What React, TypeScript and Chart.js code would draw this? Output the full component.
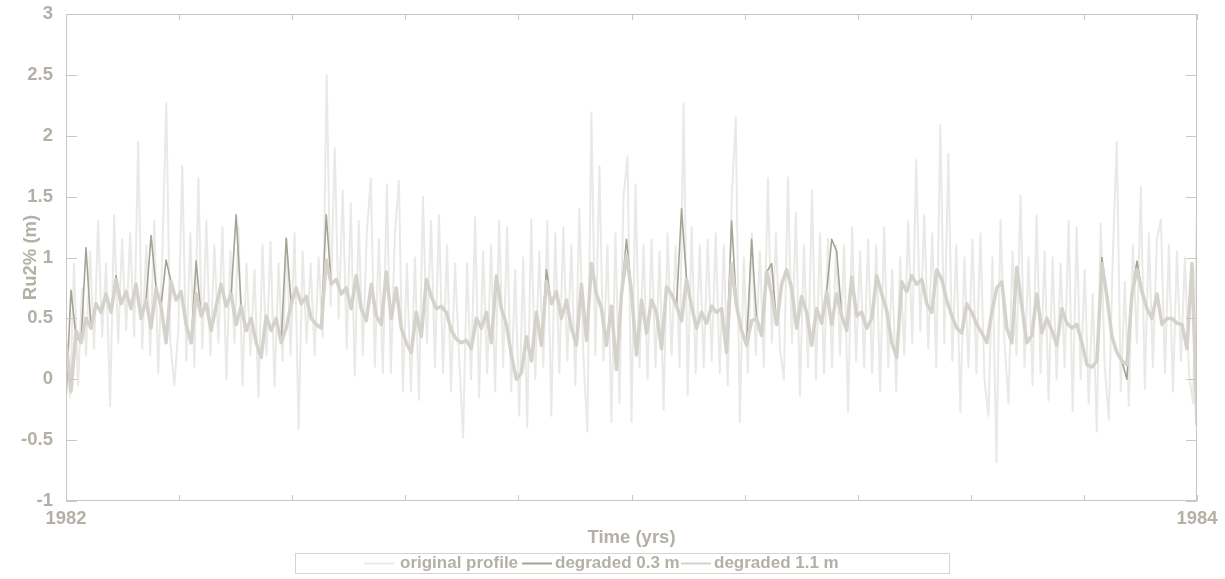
import React, { useEffect, useRef } from 'react';
import { Chart, registerables } from 'chart.js';

Chart.register(...registerables);

const yearStart = 1982;
const yearEnd = 1984;
const xTickLabels = ['1982', '1984'];
const yMin = -1;
const yMax = 3;
const yStep = 0.5;
const xStep = 0.2;
const xTitle = 'Time (yrs)';
const yTitle = 'Ru2% (m)';
const seriesNames = ['original profile', 'degraded 0.3 m', 'degraded 1.1 m'];
const seriesColors = ['#e9e9e7', '#a6a395', '#d4d2cb'];

const originalProfile = [
  0.3, -0.15, 0.95, -0.05, 0.75, 0.2, 1.05, 0.25, 1.3, 0.35,
  0.95, -0.22, 1.35, 0.3, 1.15, 0.4, 1.2, 0.35, 1.95, 0.25,
  1.1, 0.2, 1.3, 0.05, 1.0, 2.27, 0.3, -0.05, 0.4, 1.75,
  0.15, 1.2, 0.1, 1.65, 0.25, 1.3, 0.2, 1.1, 0.3, 1.25,
  0.0, 1.05, 0.3, 1.25, -0.05, 0.95, 0.2, 0.9, -0.15, 1.1,
  0.2, 1.13, -0.06, 0.95, 0.15, 1.15, 0.2, 1.2, -0.41, 1.05,
  0.3, 0.95, 0.2, 1.0, 0.35, 2.5, 0.6, 1.9, 0.5, 1.55,
  0.25, 1.45, 0.03, 1.3, 0.2, 1.2, 1.65, 0.1, 1.15, 0.05,
  1.6, 0.05, 1.2, 1.63, -0.1, 0.95, -0.1, 1.0, -0.17, 1.5,
  0.3, 1.3, 0.1, 1.35, 0.05, 1.1, -0.1, 0.95, 0.2, -0.48,
  0.95, 0.0, 1.33, -0.15, 1.05, 0.05, 1.1, -0.1, 1.3, 0.1,
  1.25, -0.1, 0.9, -0.3, 1.0, -0.39, 1.31, 0.0, 1.05, 0.1,
  1.3, -0.3, 1.2, 0.05, 1.25, 0.15, 1.1, -0.05, 1.4, 0.2,
  -0.43, 2.19, 0.2, 1.75, 0.15, 1.1, -0.35, 1.2, -0.2, 1.5,
  1.83, -0.35, 1.6, 0.1, 1.1, 0.0, 1.15, 0.1, 1.05, -0.25,
  1.2, 0.2, 1.1, 0.1, 2.27, -0.13, 1.25, 0.05, 1.1, 0.1,
  1.15, 0.15, 1.2, 0.05, 1.1, -0.05, 1.5, 2.15, -0.35, 1.0,
  0.05, 1.2, 0.2, 1.05, 0.1, 1.65, 0.3, 1.2, 0.25, 0.0,
  1.66, 0.3, 1.37, -0.14, 1.1, 0.1, 1.55, 0.0, 1.2, 0.05,
  1.15, 0.1, 1.1, 0.2, 1.1, -0.27, 1.25, 0.15, 1.05, 0.1,
  1.15, 0.05, 1.1, -0.1, 1.25, 0.1, 0.9, -0.1, 1.0, 0.2,
  1.3, 0.3, 1.8, 0.4, 1.35, 0.25, 1.2, 0.1, 2.09, 0.3,
  1.85, 0.15, 1.1, -0.27, 1.0, 0.1, 1.15, 0.05, 1.2, 0.0,
  -0.3, 1.0, -0.68, 1.31, 0.3, -0.2, 1.05, 0.2, 1.51, 0.1,
  1.0, -0.05, 1.35, 0.05, 1.05, -0.17, 1.0, 0.0, 0.95, 0.1,
  1.3, -0.26, 1.25, 0.0, 0.9, -0.2, 0.7, -0.43, 1.28, 0.1,
  -0.33, 1.0, 1.95, -0.1, 0.8, -0.22, 1.1, 0.3, 1.58, -0.08,
  1.2, 0.1, 1.15, 1.31, 0.05, 1.1, -0.1, 1.05, 0.15, 1.0, 0.05, -0.2, 1.4,
];

const degraded03 = [
  -0.17, 0.73, 0.35, 0.3, 1.08, 0.42, 0.62, 0.55, 0.7, 0.55,
  0.85, 0.62, 0.72, 0.58, 0.78, 0.5, 0.65, 1.18, 0.75, 0.6,
  0.98, 0.8, 0.65, 0.72, 0.45, 0.3, 0.97, 0.52, 0.62, 0.4,
  0.6, 0.78, 0.6, 0.7, 1.35, 0.6, 0.4, 0.5, 0.3, 0.18,
  0.52, 0.4, 0.5, 0.3, 1.16, 0.62, 0.75, 0.62, 0.68, 0.5,
  0.45, 0.42, 1.35, 0.78, 0.82, 0.7, 0.75, 0.58, 0.85, 0.58,
  0.48, 0.78, 0.52, 0.45, 0.88, 0.5, 0.75, 0.42, 0.3, 0.22,
  0.55, 0.35, 0.82, 0.68, 0.58, 0.6, 0.55, 0.4, 0.33, 0.3,
  0.32, 0.25, 0.5, 0.42, 0.55, 0.3, 0.85, 0.58, 0.45, 0.2,
  0.0, 0.05, 0.35, 0.15, 0.55, 0.28, 0.9, 0.62, 0.72, 0.5,
  0.65, 0.42, 0.28, 0.78, 0.32, 0.95, 0.7, 0.58, 0.28, 0.6,
  0.08, 0.7, 1.15, 0.72, 0.2, 0.65, 0.38, 0.65, 0.55, 0.25,
  0.76, 0.7, 0.6, 1.4, 0.82, 0.6, 0.42, 0.55, 0.46, 0.6,
  0.55, 0.58, 0.22, 1.3, 0.6, 0.4, 0.28, 1.15, 0.5, 0.36,
  0.88, 0.95, 0.45, 0.78, 0.9, 0.75, 0.42, 0.68, 0.55, 0.28,
  0.58, 0.46, 0.72, 1.15, 1.05, 0.52, 0.4, 0.84, 0.52, 0.55,
  0.42, 0.5, 0.85, 0.7, 0.56, 0.3, 0.18, 0.8, 0.72, 0.85,
  0.78, 0.82, 0.62, 0.55, 0.9, 0.82, 0.65, 0.52, 0.42, 0.38,
  0.62, 0.55, 0.45, 0.38, 0.3, 0.55, 0.75, 0.8, 0.42, 0.3,
  0.92, 0.6, 0.3, 0.36, 0.7, 0.38, 0.5, 0.4, 0.28, 0.58,
  0.46, 0.42, 0.45, 0.3, 0.12, 0.1, 0.15, 1.0, 0.68, 0.35,
  0.22, 0.15, 0.0, 0.7, 0.97, 0.72, 0.58, 0.5, 0.7, 0.45,
  0.5, 0.5, 0.46, 0.45, 0.25, 0.95, -0.38,
];

const degraded11 = [
  0.3, -0.1, 0.4, 0.3, 0.5, 0.42, 0.62, 0.55, 0.7, 0.55,
  0.82, 0.62, 0.72, 0.58, 0.78, 0.5, 0.65, 0.42, 0.75, 0.6,
  0.3, 0.8, 0.65, 0.72, 0.45, 0.3, 0.7, 0.52, 0.62, 0.4,
  0.6, 0.78, 0.6, 0.7, 0.45, 0.6, 0.4, 0.5, 0.3, 0.18,
  0.52, 0.4, 0.5, 0.3, 0.42, 0.62, 0.75, 0.62, 0.68, 0.5,
  0.45, 0.42, 0.98, 0.78, 0.82, 0.7, 0.75, 0.58, 0.85, 0.58,
  0.48, 0.78, 0.52, 0.45, 0.88, 0.5, 0.75, 0.42, 0.3, 0.22,
  0.55, 0.35, 0.82, 0.68, 0.58, 0.6, 0.55, 0.4, 0.33, 0.3,
  0.32, 0.25, 0.5, 0.42, 0.55, 0.3, 0.85, 0.58, 0.45, 0.2,
  0.0, 0.05, 0.35, 0.15, 0.55, 0.28, 0.8, 0.62, 0.72, 0.5,
  0.65, 0.42, 0.28, 0.78, 0.32, 0.95, 0.7, 0.58, 0.28, 0.6,
  0.08, 0.7, 1.02, 0.72, 0.2, 0.65, 0.38, 0.65, 0.55, 0.25,
  0.76, 0.7, 0.6, 0.48, 0.82, 0.6, 0.42, 0.55, 0.46, 0.6,
  0.55, 0.58, 0.22, 0.95, 0.6, 0.4, 0.28, 0.48, 0.5, 0.36,
  0.88, 0.7, 0.45, 0.78, 0.9, 0.75, 0.42, 0.68, 0.55, 0.28,
  0.58, 0.46, 0.72, 0.45, 0.7, 0.52, 0.4, 0.84, 0.52, 0.55,
  0.42, 0.5, 0.85, 0.7, 0.56, 0.3, 0.18, 0.8, 0.72, 0.85,
  0.78, 0.82, 0.62, 0.55, 0.9, 0.82, 0.65, 0.52, 0.42, 0.38,
  0.62, 0.55, 0.45, 0.38, 0.3, 0.55, 0.75, 0.8, 0.42, 0.3,
  0.92, 0.6, 0.3, 0.36, 0.7, 0.38, 0.5, 0.4, 0.28, 0.58,
  0.46, 0.42, 0.45, 0.3, 0.12, 0.1, 0.15, 0.95, 0.68, 0.35,
  0.22, 0.15, 0.12, 0.7, 0.9, 0.72, 0.58, 0.5, 0.7, 0.45,
  0.5, 0.5, 0.46, 0.45, 0.25, 0.95, -0.38,
];

const TEXT_COLOR = '#b4b0a6';
const FRAME_COLOR = '#cac7c0';
const FONT_FAMILY = '"Liberation Sans", Arial, Helvetica, sans-serif';

function toPoints(values: number[]) {
  const n = values.length;
  return values.map((v, i) => ({ x: yearStart + ((yearEnd - yearStart) * i) / (n - 1), y: v }));
}

const framePlugin = {
  id: 'framePlugin',
  afterDraw(chart: any) {
    const { ctx, chartArea, scales } = chart;
    const { left, right, top, bottom } = chartArea;
    ctx.save();
    ctx.strokeStyle = FRAME_COLOR;
    ctx.lineWidth = 1;
    ctx.strokeRect(Math.round(left) + 0.5, Math.round(top) + 0.5, Math.round(right - left) - 1, Math.round(bottom - top) - 1);
    ctx.beginPath();
    scales.y.ticks.forEach((t: any) => {
      const y = Math.round(scales.y.getPixelForValue(t.value)) + 0.5;
      ctx.moveTo(left, y);
      ctx.lineTo(left + 11, y);
      ctx.moveTo(right - 11, y);
      ctx.lineTo(right, y);
    });
    scales.x.ticks.forEach((t: any) => {
      const x = Math.round(scales.x.getPixelForValue(t.value)) + 0.5;
      ctx.moveTo(x, bottom);
      ctx.lineTo(x, bottom - 6);
      ctx.moveTo(x, top);
      ctx.lineTo(x, top + 6);
    });
    ctx.stroke();

    ctx.fillStyle = TEXT_COLOR;
    ctx.font = `bold 18.5px ${FONT_FAMILY}`;
    ctx.textAlign = 'center';
    ctx.textBaseline = 'middle';
    ctx.fillText(xTitle, (left + right) / 2, 538);
    ctx.save();
    ctx.translate(31, (top + bottom) / 2);
    ctx.rotate(-Math.PI / 2);
    ctx.fillText(yTitle, 0, 0);
    ctx.restore();

    // legend
    ctx.font = `bold 17px ${FONT_FAMILY}`;
    const boxL = 295, boxT = 553, boxW = 654, boxH = 20;
    ctx.fillStyle = '#ffffff';
    ctx.fillRect(boxL, boxT, boxW, boxH);
    ctx.strokeStyle = '#d6d4ce';
    ctx.lineWidth = 1;
    ctx.strokeRect(boxL + 0.5, boxT + 0.5, boxW, boxH);
    const ly = 563.5;
    const items = [
      { s: 364, t: 400 },
      { s: 522, t: 555 },
      { s: 681, t: 714 },
    ];
    ctx.textAlign = 'left';
    items.forEach((it, i) => {
      ctx.strokeStyle = seriesColors[i];
      ctx.lineWidth = 2;
      ctx.beginPath();
      ctx.moveTo(it.s, ly);
      ctx.lineTo(it.s + 30, ly);
      ctx.stroke();
      ctx.fillStyle = TEXT_COLOR;
      ctx.fillText(seriesNames[i], it.t, ly);
    });
    ctx.restore();
  },
};

export default function App() {
  const canvasRef = useRef<HTMLCanvasElement | null>(null);

  useEffect(() => {
    if (!canvasRef.current) return;
    const tickFont = { family: FONT_FAMILY, size: 18.5, weight: 'bold' as const };
    const chart = new Chart(canvasRef.current, {
      type: 'line',
      data: {
        datasets: [
          {
            label: seriesNames[0],
            data: toPoints(originalProfile),
            borderColor: seriesColors[0],
            borderWidth: 2,
            pointRadius: 0,
            order: 3,
          },
          {
            label: seriesNames[1],
            data: toPoints(degraded03),
            borderColor: seriesColors[1],
            borderWidth: 1.6,
            pointRadius: 0,
            order: 2,
          },
          {
            label: seriesNames[2],
            data: toPoints(degraded11),
            borderColor: seriesColors[2],
            borderWidth: 3.5,
            pointRadius: 0,
            order: 1,
          },
        ],
      },
      options: {
        responsive: false,
        animation: false,
        layout: { padding: { left: 0, right: 28, top: 14, bottom: 0 } },
        plugins: { legend: { display: false }, tooltip: { enabled: false } },
        elements: { line: { tension: 0, borderJoinStyle: 'round' } },
        scales: {
          x: {
            type: 'linear',
            min: yearStart,
            max: yearEnd,
            grid: { display: false, drawTicks: false },
            border: { display: false },
            ticks: {
              stepSize: xStep,
              autoSkip: false,
              maxRotation: 0,
              padding: 7,
              color: TEXT_COLOR,
              font: tickFont,
              callback: (v: any) => {
                const n = Number(v);
                if (Math.abs(n - yearStart) < 1e-6) return xTickLabels[0];
                if (Math.abs(n - yearEnd) < 1e-6) return xTickLabels[1];
                return '';
              },
            },
            afterFit: (s: any) => {
              s.height = 78;
              s.paddingLeft = 0;
              s.paddingRight = 0;
            },
          },
          y: {
            type: 'linear',
            min: yMin,
            max: yMax,
            grid: { display: false, drawTicks: false },
            border: { display: false },
            ticks: {
              stepSize: yStep,
              padding: 13,
              color: TEXT_COLOR,
              font: tickFont,
              callback: (v: any) => String(Math.round(Number(v) * 10) / 10),
            },
            afterFit: (s: any) => {
              s.width = 66;
              s.paddingTop = 0;
              s.paddingBottom = 0;
            },
          },
        },
      },
      plugins: [framePlugin],
    });
    return () => chart.destroy();
  }, []);

  return (
    <div style={{ position: 'absolute', left: 0, top: 0, width: 1225, height: 579, background: '#ffffff' }}>
      <canvas ref={canvasRef} width={1225} height={579} style={{ display: 'block', width: 1225, height: 579 }} />
    </div>
  );
}
